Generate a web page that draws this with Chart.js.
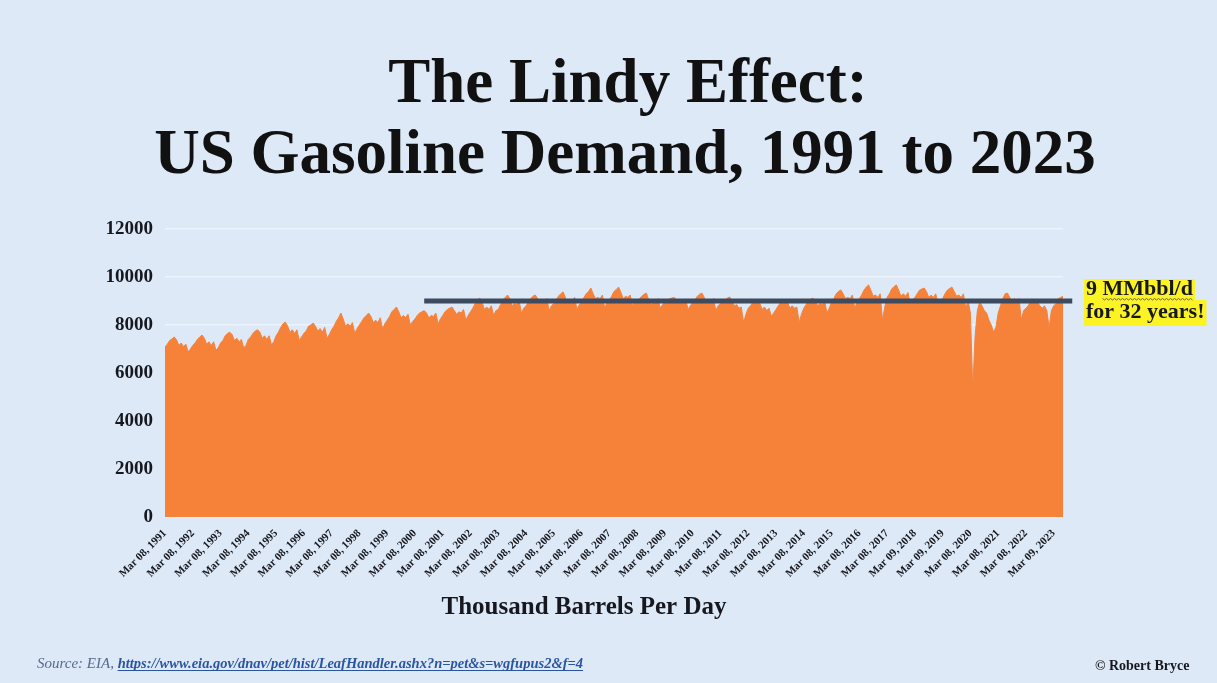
<!DOCTYPE html>
<html>
<head>
<meta charset="utf-8">
<title>US Gasoline Demand, 1991 to 2023</title>
<script src="https://cdn.jsdelivr.net/npm/chart.js@4.4.1/dist/chart.umd.min.js"></script>
<style>
  html, body { margin: 0; padding: 0; background: #dde9f6; }
  canvas { display: block; }
</style>
</head>
<body>
<canvas id="myChart" width="1217" height="683"></canvas>
<script>
  // Monthly US gasoline product supplied, thousand barrels per day (Mar to Feb years)
  var demand1990s = [ // Mar 1991 - Feb 2001
    7080, 7200, 7350, 7420, 7500, 7380, 7150, 7250, 7100, 7200, 6880, 7000,
    7150, 7250, 7400, 7500, 7580, 7450, 7200, 7300, 7150, 7300, 6950, 7050,
    7250, 7350, 7550, 7650, 7700, 7600, 7350, 7450, 7300, 7400, 7050, 7150,
    7400, 7500, 7650, 7750, 7800, 7700, 7450, 7550, 7400, 7550, 7170, 7300,
    7550, 7700, 7900, 8050, 8120, 7950, 7700, 7800, 7650, 7800, 7350, 7500,
    7650, 7750, 7950, 8000, 8080, 7950, 7750, 7850, 7700, 7900, 7450, 7600,
    7800, 7950, 8150, 8300, 8500, 8250, 7950, 8050, 7950, 8100, 7650, 7850,
    8000, 8150, 8300, 8400, 8500, 8350, 8100, 8200, 8100, 8300, 7850, 8050,
    8200, 8350, 8550, 8650, 8750, 8550, 8300, 8400, 8300, 8450, 8000, 8150,
    8250, 8400, 8500, 8550, 8600, 8500, 8300, 8400, 8350, 8500, 8050, 8250
  ];
  var demand2000s = [ // Mar 2001 - Feb 2011
    8400, 8550, 8650, 8700, 8750, 8600, 8450, 8550, 8500, 8650, 8200, 8400,
    8550, 8700, 8900, 9050, 9120, 8950, 8650, 8750, 8650, 8800, 8400, 8600,
    8650, 8850, 9050, 9150, 9250, 9100, 8800, 8900, 8850, 9000, 8500, 8700,
    8800, 8950, 9100, 9200, 9250, 9100, 8900, 9000, 8950, 9100, 8600, 8800,
    8900, 9050, 9200, 9300, 9380, 9150, 8900, 9050, 9000, 9150, 8650, 8850,
    8950, 9150, 9300, 9400, 9540, 9300, 9100, 9150, 9100, 9250, 8700, 8950,
    9050, 9200, 9400, 9480, 9580, 9350, 9100, 9200, 9150, 9250, 8800, 9000,
    9000, 9100, 9200, 9280, 9330, 9050, 8850, 8950, 8950, 9100, 8700, 8850,
    8950, 9000, 9100, 9120, 9150, 9050, 8900, 8950, 8900, 9050, 8650, 8800,
    8950, 9050, 9200, 9280, 9330, 9150, 8950, 9000, 8950, 9100, 8600, 8800
  ];
  var demand2010s = [ // Mar 2011 - Feb 2020
    8900, 8950, 9050, 9120, 9170, 9000, 8800, 8850, 8700, 8750, 8100, 8450,
    8700, 8800, 8950, 9000, 9040, 8900, 8650, 8750, 8600, 8700, 8350, 8500,
    8650, 8800, 8950, 9000, 9040, 8950, 8700, 8800, 8700, 8750, 8100, 8450,
    8700, 8850, 9000, 9080, 9120, 9000, 8800, 8900, 8850, 9000, 8500, 8700,
    8950, 9100, 9300, 9400, 9460, 9300, 9100, 9150, 9100, 9250, 8700, 8950,
    9100, 9250, 9450, 9580, 9670, 9450, 9200, 9250, 9150, 9300, 8200, 8750,
    9150, 9300, 9500, 9600, 9670, 9450, 9200, 9300, 9200, 9350, 8900, 9050,
    9150, 9300, 9450, 9500, 9540, 9400, 9150, 9250, 9150, 9300, 8900, 9000,
    9100, 9300, 9450, 9520, 9580, 9400, 9200, 9250, 9150, 9300, 8700, 9000
  ];
  var demand2020s = [ // Mar 2020 - Jul 2023
    8500, 5300, 7500, 8600, 8950, 8800, 8600, 8500, 8200, 8000, 7700, 7900,
    8500, 8800, 9100, 9300, 9330, 9150, 9000, 9100, 9000, 9100, 8200, 8600,
    8700, 8800, 9000, 9000, 8900, 8950, 8800, 8700, 8800, 8600, 7900, 8600,
    8800, 8900, 9100, 9150, 9200
  ];

  var tickLabels = [
    'Mar 08, 1991', 'Mar 08, 1992', 'Mar 08, 1993', 'Mar 08, 1994', 'Mar 08, 1995',
    'Mar 08, 1996', 'Mar 08, 1997', 'Mar 08, 1998', 'Mar 08, 1999', 'Mar 08, 2000',
    'Mar 08, 2001', 'Mar 08, 2002', 'Mar 08, 2003', 'Mar 08, 2004', 'Mar 08, 2005',
    'Mar 08, 2006', 'Mar 08, 2007', 'Mar 08, 2008', 'Mar 08, 2009', 'Mar 08, 2010',
    'Mar 08, 2011', 'Mar 08, 2012', 'Mar 08, 2013', 'Mar 08, 2014', 'Mar 08, 2015',
    'Mar 08, 2016', 'Mar 08, 2017', 'Mar 09, 2018', 'Mar 09, 2019', 'Mar 08, 2020',
    'Mar 08, 2021', 'Mar 08, 2022', 'Mar 09, 2023'
  ];

  // 9 MMbbl/d benchmark, drawn from month 112 (mid 2000) past the last week
  var benchmarkMMbbl = 9;
  var benchmarkSpan = [112, 392];

  var demand = demand1990s.concat(demand2000s, demand2010s, demand2020s);
  var demandPoints = demand.map(function (v, i) { return { x: i, y: v }; });
  var benchmarkPoints = benchmarkSpan.map(function (m) { return { x: m, y: benchmarkMMbbl * 1000 }; });

  var serif = "'Liberation Serif', 'Times New Roman', serif";
  var ink = '#17181f';

  // Page background, title, note box, axis caption and footer
  var decorations = {
    id: 'decorations',
    beforeDraw: function (chart) {
      var c = chart.ctx;
      c.save();
      c.fillStyle = '#dde9f6';
      c.fillRect(0, 0, chart.width, chart.height);
      c.restore();
    },
    afterDraw: function (chart) {
      var c = chart.ctx;
      var y = chart.scales.y.getPixelForValue(benchmarkMMbbl * 1000);
      c.save();

      // two-line title
      c.textAlign = 'center';
      c.textBaseline = 'alphabetic';
      c.fillStyle = '#111111';
      c.font = 'bold 63px ' + serif;
      c.fillText('The Lindy Effect:', 628, 102);
      c.fillText('US Gasoline Demand, 1991 to 2023', 625, 173);

      // highlighted note next to the benchmark line
      c.font = 'bold 22px ' + serif;
      c.textAlign = 'left';
      var line1 = benchmarkMMbbl + ' MMbbl/d';
      var line2 = 'for 32 years!';
      var x0 = 1086;
      c.fillStyle = '#fbf324';
      c.fillRect(x0 - 2, y - 22, c.measureText(line1).width + 4, 21);
      c.fillRect(x0 - 2, y - 1, c.measureText(line2).width + 4, 26);
      c.fillStyle = ink;
      c.fillText(line1, x0, y - 6);
      c.fillText(line2, x0, y + 17);
      // spell-check squiggle under MMbbl/d
      var sx = x0 + c.measureText(benchmarkMMbbl + ' ').width;
      var ex = x0 + c.measureText(line1).width;
      c.strokeStyle = '#6f6a3c';
      c.lineWidth = 1;
      c.beginPath();
      for (var px = sx, k = 0; px <= ex; px += 2, k++) {
        var py = y - 2 + (k % 2 ? 1 : -0.5);
        if (k === 0) c.moveTo(px, py); else c.lineTo(px, py);
      }
      c.stroke();

      // axis caption
      c.font = 'bold 25px ' + serif;
      c.textAlign = 'center';
      c.fillStyle = ink;
      c.fillText('Thousand Barrels Per Day', 584, 614);

      // source line
      c.textAlign = 'left';
      c.font = 'italic 15px ' + serif;
      c.fillStyle = '#56698f';
      var src = 'Source: EIA, ';
      c.fillText(src, 37, 668);
      var lx = 37 + c.measureText(src).width;
      var link = 'https://www.eia.gov/dnav/pet/hist/LeafHandler.ashx?n=pet&s=wgfupus2&f=4';
      c.font = 'italic bold 14.5px ' + serif;
      c.fillStyle = '#2a55a0';
      c.fillText(link, lx, 668);
      c.fillRect(lx, 670, c.measureText(link).width, 1);

      // credit
      c.font = 'bold 14px ' + serif;
      c.fillStyle = ink;
      c.fillText('\u00a9 Robert Bryce', 1095, 670);
      c.restore();
    }
  };

  var ctx = document.getElementById('myChart').getContext('2d');

  var chart = new Chart(ctx, {
    type: 'line',
    data: {
      datasets: [{
        label: '9 MMbbl/d',
        data: benchmarkPoints,
        borderColor: '#3c4b60',
        borderWidth: 5,
        pointRadius: 0,
        fill: false,
        clip: false,
        order: 0
      }, {
        label: 'Thousand Barrels Per Day',
        data: demandPoints,
        borderColor: '#f6823a',
        backgroundColor: '#f6823a',
        borderWidth: 1,
        pointRadius: 0,
        tension: 0,
        fill: 'origin',
        order: 1
      }]
    },
    options: {
      responsive: false,
      animation: false,
      devicePixelRatio: 1,
      layout: { padding: { left: 0, right: 154, top: 229, bottom: 0 } },
      plugins: {
        legend: { display: false },
        tooltip: { enabled: false },
        title: { display: false }
      },
      scales: {
        x: {
          type: 'linear',
          min: 0,
          max: 388,
          grid: { display: false },
          border: { display: false },
          ticks: {
            stepSize: 12,
            autoSkip: false,
            includeBounds: false,
            maxRotation: 45,
            minRotation: 45,
            padding: 2,
            color: ink,
            font: { family: serif, size: 11, weight: 'bold' },
            callback: function (v) { return tickLabels[v / 12]; }
          },
          afterFit: function (s) { s.height = 166; }
        },
        y: {
          min: 0,
          max: 12000,
          grid: { color: 'rgba(255,255,255,0.45)', lineWidth: 1.5, drawTicks: false },
          border: { display: false },
          ticks: {
            stepSize: 2000,
            padding: 12,
            color: ink,
            font: { family: serif, size: 19, weight: 'bold' },
            callback: function (v) { return String(v); }
          },
          afterFit: function (s) { s.width = 165; }
        }
      }
    },
    plugins: [decorations]
  });
</script>
</body>
</html>
